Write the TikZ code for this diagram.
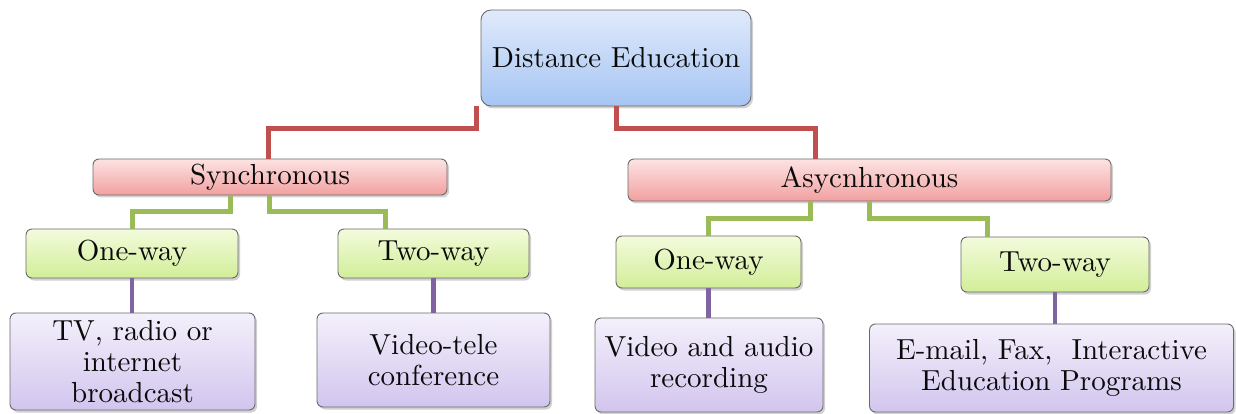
\documentclass[tikz,border=0pt]{standalone}
\usepackage{fontspec}
\usetikzlibrary{shadows}

% the 10pt design of Latin Modern, which keeps its heavier strokes when enlarged
\newfontfamily\boxfont{lmroman10-regular}[Extension=.otf]

\definecolor{lineRed}{HTML}{C0504D}
\definecolor{lineGreen}{HTML}{9BBB59}
\definecolor{linePurple}{HTML}{8064A2}
\definecolor{boxEdge}{HTML}{6A6A6A}
\definecolor{blueTop}{HTML}{E0EAFB}
\definecolor{blueBot}{HTML}{A6C5F3}
\definecolor{pinkTop}{HTML}{FDE3E3}
\definecolor{pinkBot}{HTML}{F2A0A0}
\definecolor{greenTop}{HTML}{F3FBDC}
\definecolor{greenBot}{HTML}{D2EE98}
\definecolor{purpleTop}{HTML}{F4F0FB}
\definecolor{purpleBot}{HTML}{D2C5EE}
\definecolor{ink}{HTML}{0A0A0A}

\tikzset{
  box/.style={draw=boxEdge, line width=0.9pt, rounded corners=6pt,
    inner sep=0pt, align=center, text=ink,
    font=\boxfont\fontsize{29}{31}\selectfont,
    drop shadow={shadow xshift=2pt, shadow yshift=-2.5pt, opacity=0.3, fill=black!60}},
  rootbox/.style={box, rounded corners=10pt, shading=axis,
    top color=blueTop, bottom color=blueBot},
  modebox/.style={box, shading=axis, top color=pinkTop, bottom color=pinkBot},
  waybox/.style={box, shading=axis, top color=greenTop, bottom color=greenBot},
  toolbox/.style={box, shading=axis, top color=purpleTop, bottom color=purpleBot},
  redlink/.style={draw=lineRed, line width=5pt},
  greenlink/.style={draw=lineGreen, line width=5pt},
  purplelink/.style={draw=linePurple, line width=4.5pt},
}

\begin{document}
\begin{tikzpicture}[x=1pt, y=-1pt]
\useasboundingbox (0,0) rectangle (1236,414);

% root
\node[rootbox, minimum width=270pt, minimum height=96pt] (de) at (616,58) {Distance Education};

% modes
\node[modebox, minimum width=354pt, minimum height=36pt] (syn) at (270,177) {Synchronous};
\node[modebox, minimum width=483pt, minimum height=42pt] (asy) at (869.5,180) {Asycnhronous};

% one-way / two-way
\node[waybox, minimum width=212pt, minimum height=49pt] (ow1) at (132,253.5) {One-way};
\node[waybox, minimum width=191pt, minimum height=49pt] (tw1) at (433.5,253.5) {Two-way};
\node[waybox, minimum width=185pt, minimum height=52pt] (ow2) at (708.5,262) {One-way};
\node[waybox, minimum width=188pt, minimum height=55pt] (tw2) at (1055,264.5) {Two-way};

% media
\node[toolbox, minimum width=245pt, minimum height=97pt] (tv) at (132.5,361.5) {TV, radio or\\internet\\broadcast};
\node[toolbox, minimum width=233pt, minimum height=94pt] (vt) at (433.5,360) {Video-tele\\conference};
\node[toolbox, minimum width=228pt, minimum height=94pt] (va) at (709,365) {Video and audio\\recording};
\node[toolbox, minimum width=364pt, minimum height=88pt] (em) at (1051.5,368) {E-mail, Fax, \ Interactive\\Education Programs};

% root to modes
\draw[redlink] ([xshift=-4pt]de.south west) -- ++(0,22) -| ([xshift=-2pt]syn.north);
\draw[redlink] (de.south) -- ++(0,22) -| ([xshift=-54pt]asy.north);

% modes to one-way / two-way
\draw[greenlink] ([xshift=-40pt]syn.south) -- ++(0,16) -| (ow1.north);
\draw[greenlink] ([xshift=-1pt]syn.south) -- ++(0,16) -| ([xshift=-48pt]tw1.north);
\draw[greenlink] ([xshift=-59pt]asy.south) -- ++(0,17) -| (ow2.north);
\draw[greenlink] ([xshift=-0.5pt]asy.south) -- ++(0,17) -| ([xshift=-68pt]tw2.north);

% one-way / two-way to media
\draw[purplelink] (ow1.south) -- (ow1.south |- tv.north);
\draw[purplelink] (tw1.south) -- (tw1.south |- vt.north);
\draw[purplelink] (ow2.south) -- (ow2.south |- va.north);
\draw[purplelink] (tw2.south) -- (tw2.south |- em.north);
\end{tikzpicture}
\end{document}
